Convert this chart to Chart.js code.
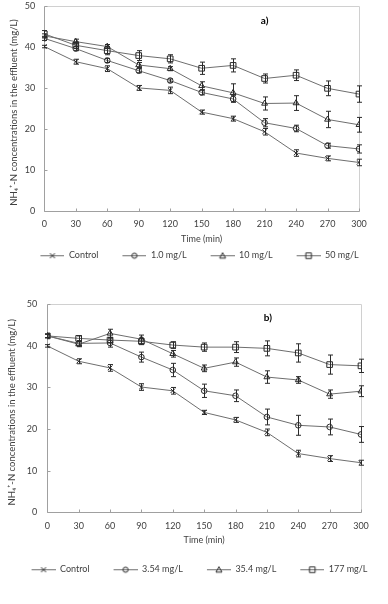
<!DOCTYPE html>
<html>
<head>
<meta charset="utf-8">
<script src="https://cdn.jsdelivr.net/npm/chart.js@4/dist/chart.umd.min.js"></script>
<style>
  html, body { margin: 0; padding: 0; background: #fff; }
  #wrap { position: relative; width: 388px; height: 604px; overflow: hidden; }
  .panel { position: absolute; left: 0; width: 388px; }
</style>
</head>
<body>
<div id="wrap">
  <div class="panel" id="pa" style="top:0px;height:280px;"><canvas id="ca"></canvas></div>
  <div class="panel" id="pb" style="top:296px;height:308px;"><canvas id="cb"></canvas></div>
</div>
<script>
// ---------- data ----------
const times = [0, 30, 60, 90, 120, 150, 180, 210, 240, 270, 300];
const xTicks = [0, 30, 60, 90, 120, 150, 180, 210, 240, 270, 300];
const yTicks = [0, 10, 20, 30, 40, 50];

// panel a)
const labelsA = ['Control', '1.0 mg/L', '10 mg/L', '50 mg/L'];
const controlA = [40.1, 36.4, 34.7, 30.0, 29.4, 24.1, 22.5, 19.3, 14.1, 12.8, 11.8];
const conc1A   = [42.1, 39.6, 36.7, 34.2, 31.8, 28.9, 27.3, 21.5, 20.1, 15.9, 15.1];
const conc10A  = [42.7, 41.3, 40.1, 35.6, 34.7, 30.5, 28.8, 26.2, 26.3, 22.3, 21.0];
const conc50A  = [43.2, 40.4, 39.1, 37.9, 37.1, 34.8, 35.5, 32.3, 33.1, 29.9, 28.5];
const controlAErr = [0.3, 0.6, 0.7, 0.6, 0.8, 0.5, 0.6, 0.8, 0.8, 0.6, 0.8];
const conc1AErr   = [0.5, 0.5, 0.5, 0.5, 0.4, 0.6, 0.8, 1.0, 0.8, 0.6, 1.0];
const conc10AErr  = [0.5, 0.6, 0.5, 0.6, 0.5, 1.0, 2.2, 1.6, 1.8, 2.0, 1.8];
const conc50AErr  = [0.8, 0.8, 1.0, 1.2, 1.0, 1.5, 1.6, 1.1, 1.3, 1.8, 2.0];

// panel b)
const labelsB = ['Control', '3.54 mg/L', '35.4 mg/L', '177 mg/L'];
const controlB  = [40.0, 36.3, 34.7, 30.1, 29.2, 24.0, 22.2, 19.2, 14.1, 12.9, 11.9];
const conc354B  = [42.4, 40.6, 40.7, 37.3, 34.2, 29.2, 28.0, 22.9, 20.9, 20.5, 18.7];
const conc35B   = [42.4, 40.4, 43.0, 41.6, 38.1, 34.6, 36.1, 32.5, 31.8, 28.4, 29.1];
const conc177B  = [42.4, 41.8, 41.4, 41.1, 40.2, 39.7, 39.7, 39.4, 38.3, 35.5, 35.2];
const controlBErr = [0.3, 0.6, 0.8, 0.8, 0.8, 0.5, 0.6, 0.8, 0.8, 0.7, 0.6];
const conc354BErr = [0.4, 0.6, 1.0, 1.2, 1.6, 1.6, 1.4, 1.9, 2.4, 1.9, 1.9];
const conc35BErr  = [0.4, 0.6, 1.0, 1.0, 0.8, 0.8, 1.0, 1.5, 0.8, 1.0, 1.3];
const conc177BErr = [0.5, 0.6, 0.6, 0.8, 0.8, 1.0, 1.3, 1.8, 2.2, 2.3, 1.6];

const markerStyles = ['crossRot', 'circle', 'triangle', 'rect'];
const markerRadius = [3.2, 2.8, 3.4, 4.0];

// ---------- styling ----------
const FONT = 'Lato, "Open Sans", sans-serif';
const FS = 9;
const TXT = '#404040';
const LINE = '#6e6e6e';
const MARK = '#2a2a2a';
const AXIS = '#a0a0a0';
const FRAME = '#d0d0d0';
const xTitle = 'Time (min)';
const yTitle = 'NH\u2084\u207A-N concentrations in the effluent (mg/L)';

function legendIcon(style) {
  const c = document.createElement('canvas');
  c.width = 35; c.height = 10;
  const g = c.getContext('2d');
  g.strokeStyle = LINE; g.lineWidth = 1;
  g.beginPath(); g.moveTo(11, 5.5); g.lineTo(35, 5.5); g.stroke();
  g.strokeStyle = MARK;
  const cx = 23, cy = 5.5;
  g.beginPath();
  if (style === 'crossRot') {
    g.moveTo(cx - 2.5, cy - 2.5); g.lineTo(cx + 2.5, cy + 2.5);
    g.moveTo(cx + 2.5, cy - 2.5); g.lineTo(cx - 2.5, cy + 2.5);
  } else if (style === 'circle') {
    g.arc(cx, cy, 2.6, 0, Math.PI * 2);
  } else if (style === 'triangle') {
    g.moveTo(cx, cy - 3); g.lineTo(cx + 3, cy + 2.4); g.lineTo(cx - 3, cy + 2.4); g.closePath();
  } else {
    g.rect(cx - 2.8, cy - 2.8, 5.6, 5.6);
  }
  g.stroke();
  return c;
}

const panelPlugin = {
  id: 'panelDecor',
  beforeDatasetsDraw(chart, args, opts) {
    const {ctx, chartArea: a, scales: {x, y}} = chart;
    ctx.save();
    ctx.lineWidth = 1;
    const L = Math.round(a.left) + 0.5, R = Math.round(a.right) + 0.5;
    const T = Math.round(a.top) + 0.5, B = Math.round(a.bottom) + 0.5;
    ctx.strokeStyle = FRAME;
    ctx.beginPath();
    ctx.moveTo(L, T); ctx.lineTo(R, T); ctx.lineTo(R, B);
    ctx.stroke();
    ctx.strokeStyle = AXIS;
    ctx.beginPath();
    ctx.moveTo(L, T); ctx.lineTo(L, B); ctx.lineTo(R, B);
    xTicks.forEach(t => {
      const px = Math.round(x.getPixelForValue(t)) + 0.5;
      ctx.moveTo(px, B); ctx.lineTo(px, B - 3);
    });
    yTicks.forEach(t => {
      const py = Math.round(y.getPixelForValue(t)) + 0.5;
      ctx.moveTo(L, py); ctx.lineTo(L + 3, py);
    });
    ctx.stroke();
    // axis titles
    ctx.fillStyle = TXT;
    ctx.font = FS + 'px ' + FONT;
    ctx.textAlign = 'center'; ctx.textBaseline = 'middle';
    ctx.fillText(xTitle, (a.left + a.right) / 2, a.bottom + opts.xTitleGap);
    ctx.save();
    ctx.font = '9.5px ' + FONT;
    ctx.translate(opts.yTitleX, (a.top + a.bottom) / 2 + opts.yTitleDy);
    ctx.rotate(-Math.PI / 2);
    ctx.fillText(yTitle, 0, 0);
    ctx.restore();
    // panel tag
    ctx.fillStyle = '#000';
    ctx.font = 'bold 10px ' + FONT;
    ctx.fillText(opts.tag, x.getPixelForValue(opts.tagX), y.getPixelForValue(opts.tagY));
    ctx.restore();
  },
  afterDatasetsDraw(chart) {
    const {ctx, scales: {y}} = chart;
    ctx.save();
    ctx.strokeStyle = MARK; ctx.lineWidth = 1;
    chart.data.datasets.forEach((ds, di) => {
      const meta = chart.getDatasetMeta(di);
      meta.data.forEach((pt, i) => {
        const v = ds.data[i].y, e = ds.errors[i];
        const px = Math.round(pt.x) + 0.5;
        const y1 = y.getPixelForValue(v + e), y2 = y.getPixelForValue(v - e);
        ctx.beginPath();
        ctx.moveTo(px, y1); ctx.lineTo(px, y2);
        ctx.moveTo(px - 2.5, y1); ctx.lineTo(px + 2.5, y1);
        ctx.moveTo(px - 2.5, y2); ctx.lineTo(px + 2.5, y2);
        ctx.stroke();
      });
    });
    ctx.restore();
  }
};

function makeChart(id, labels, series, errs, g) {
  const datasets = series.map((s, k) => ({
    label: labels[k],
    data: times.map((t, i) => ({x: t, y: s[i]})),
    errors: errs[k],
    borderColor: LINE,
    borderWidth: 1,
    pointStyle: markerStyles[k],
    pointRadius: markerRadius[k],
    pointBorderColor: MARK,
    pointBackgroundColor: 'rgba(0,0,0,0)',
    pointBorderWidth: 1,
    icon: legendIcon(markerStyles[k])
  }));
  return new Chart(document.getElementById(id), {
    type: 'line',
    data: {datasets},
    plugins: [panelPlugin],
    options: {
      responsive: true,
      maintainAspectRatio: false,
      animation: false,
      layout: {padding: {top: g.padTop, right: 0, bottom: g.padBottom, left: 0}},
      plugins: {
        tooltip: {enabled: false},
        panelDecor: {tag: g.tag, tagX: g.tagX, tagY: g.tagY, xTitleGap: g.xTitleGap, yTitleX: g.yTitleX, yTitleDy: g.yTitleDy},
        legend: {
          position: 'bottom',
          labels: {
            usePointStyle: true,
            pointStyleWidth: 35,
            padding: 13,
            color: TXT,
            font: {family: FONT, size: FS},
            generateLabels(chart) {
              return chart.data.datasets.map((ds, i) => ({
                text: ds.label, pointStyle: ds.icon, fillStyle: 'transparent',
                strokeStyle: 'transparent', lineWidth: 0, datasetIndex: i, fontColor: TXT
              }));
            }
          }
        }
      },
      scales: {
        x: {
          type: 'linear', min: 0, max: 300,
          grid: {display: false, drawTicks: false}, border: {display: false},
          afterBuildTicks(s) { s.ticks = xTicks.map(v => ({value: v})); },
          afterFit(s) { s.height = g.xHeight; },
          ticks: {color: TXT, font: {family: FONT, size: FS}, padding: g.xTickPad, maxRotation: 0, autoSkip: false}
        },
        y: {
          type: 'linear', min: 0, max: 50,
          grid: {display: false, drawTicks: false}, border: {display: false},
          afterBuildTicks(s) { s.ticks = yTicks.map(v => ({value: v})); },
          afterFit(s) { s.width = g.yWidth; s.paddingTop = 0; s.paddingBottom = 0; },
          ticks: {color: TXT, font: {family: FONT, size: FS}, padding: g.yTickPad}
        },
        spacer: {
          type: 'linear', position: 'right', display: true,
          grid: {display: false, drawTicks: false}, border: {display: false},
          ticks: {display: false},
          afterFit(s) { s.width = g.rightSpace; s.paddingTop = 0; s.paddingBottom = 0; }
        }
      }
    }
  });
}

makeChart('ca', labelsA, [controlA, conc1A, conc10A, conc50A],
  [controlAErr, conc1AErr, conc10AErr, conc50AErr],
  {padTop: 6, padBottom: 10.25, rightSpace: 29, xHeight: 26.95, xTickPad: 8.2, xTitleGap: 28.4,
   yWidth: 44.3, yTickPad: 9, yTitleX: 13.5, yTitleDy: 4, tag: 'a)', tagX: 210, tagY: 46.3});

makeChart('cb', labelsB, [controlB, conc354B, conc35B, conc177B],
  [controlBErr, conc354BErr, conc35BErr, conc177BErr],
  {padTop: 8.3, padBottom: 20.25, rightSpace: 27, xHeight: 39.55, xTickPad: 8.2, xTitleGap: 28.3,
   yWidth: 47.3, yTickPad: 10, yTitleX: 12, yTitleDy: 4, tag: 'b)', tagX: 211, tagY: 46.7});
</script>
</body>
</html>
